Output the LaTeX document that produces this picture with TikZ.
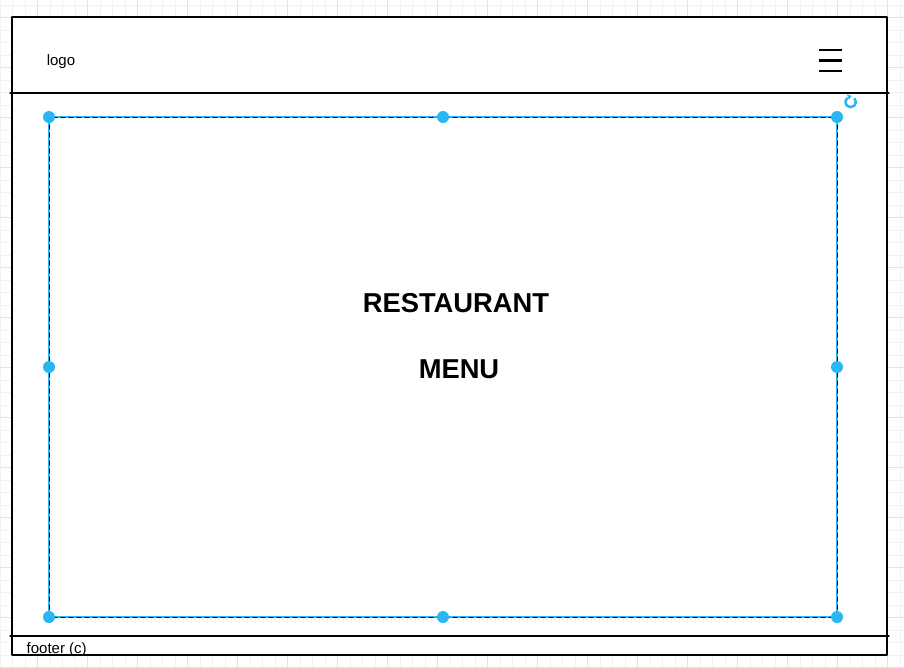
\documentclass[tikz,border=0pt]{standalone}
\usepackage{fontspec}
\setmainfont{Liberation Sans}
\usetikzlibrary{arrows.meta}
\definecolor{selblue}{HTML}{29B6F2}
\definecolor{gridminor}{HTML}{F2F2F2}
\definecolor{gridmajor}{HTML}{E3E3E3}
\begin{document}
\begin{tikzpicture}[x=0.75pt, y=-0.75pt, font=\fontsize{11.25}{13}\selectfont, line join=round, line cap=round]
				\useasboundingbox (0,0) rectangle (904,668);
				% Lưới nền
				\foreach \i in {0,...,72}{\draw[gridminor, line width=0.75pt] (\i*12.5,0) -- (\i*12.5,668);}
				\foreach \i in {0,...,53}{\draw[gridminor, line width=0.75pt] (0,5+\i*12.5) -- (904,5+\i*12.5);}
				\foreach \i in {0,...,17}{\draw[gridmajor, line width=0.75pt] (37.5+\i*50,0) -- (37.5+\i*50,668);}
				\foreach \i in {0,...,13}{\draw[gridmajor, line width=0.75pt] (0,17.5+\i*50) -- (904,17.5+\i*50);}
				% Tọa độ khung trang
				\coordinate (P1) at (12,17);
				\coordinate (P2) at (887,655);
				\coordinate (H1) at (10,93);
				\coordinate (H2) at (889,93);
				\coordinate (F1) at (10,636);
				\coordinate (F2) at (889,636);
				% Vẽ khung trang
				\fill[white] (P1) rectangle (P2);
				\draw[line width=0.9pt] (P1) rectangle (P2);
				\draw[line width=0.9pt] (H1) -- (H2);
				\draw[line width=0.9pt] (F1) -- (F2);
				% Biểu tượng menu
				\coordinate (M1) at (819,50);
				\coordinate (M2) at (819,60.5);
				\coordinate (M3) at (819,71);
				\foreach \x in {M1,M2,M3}{\draw[line width=1.6pt, line cap=butt] (\x) -- ++(23,0);}
				% Khung được chọn
				\coordinate (A) at (49,117);
				\coordinate (B) at (443,117);
				\coordinate (C) at (837,117);
				\coordinate (D) at (837,367);
				\coordinate (E) at (837,617);
				\coordinate (F) at (443,617);
				\coordinate (G) at (49,617);
				\coordinate (K) at (49,367);
				\draw[selblue, line width=1pt] (A) rectangle (E);
				\draw[line width=0.75pt, dash pattern=on 3pt off 3pt] (A) rectangle (E);
				\foreach \x in {A,B,C,D,E,F,G,K}{\fill[selblue] (\x) circle(4.5pt);}
				% Biểu tượng xoay
				\coordinate (R) at (850.7,102);
				\begin{scope}[shift={(R)}, x=1pt, y=1pt]
					\draw[selblue, line width=1.9pt, line cap=butt] (45:3.9) arc[start angle=45, end angle=-235, radius=3.9];
					\fill[selblue] (0.6,4.5) -- (-2.9,5.9) -- (-1.2,1.8) -- cycle;
				\end{scope}
				% Nhãn
				\node (logo) at (61,61.5) {logo};
				\node[anchor=west] (footer) at (22,649.5) {footer (c)};
				\node[font=\fontsize{20.5}{24}\selectfont\bfseries] (title) at (456,303) {RESTAURANT};
				\node[font=\fontsize{20.5}{24}\selectfont\bfseries] (menu) at (459,369) {MENU};
			\end{tikzpicture}
\end{document}
